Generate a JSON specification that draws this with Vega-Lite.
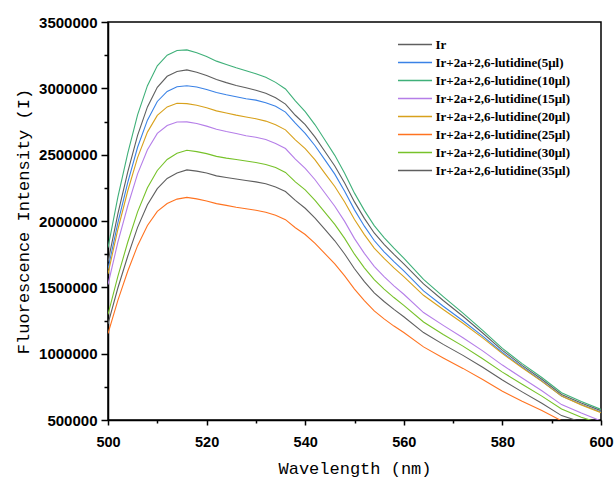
{
  "$schema": "https://vega.github.io/schema/vega-lite/v6.json",
  "autosize": {"type": "none"},
  "padding": {"left": 108, "top": 22, "right": 15, "bottom": 57},
  "width": 493,
  "height": 398,
  "background": "white",
  "view": {"stroke": "black", "strokeWidth": 1.5},
  "data": {"values": [
    {"w":500,"s0":1692000,"s1":1638000,"s2":1800000,"s3":1521000,"s4":1602000,"s5":1152000,"s6":1296000,"s7":1224000},
    {"w":502,"s0":2054000,"s1":1986000,"s2":2180000,"s3":1840000,"s4":1936000,"s5":1402000,"s6":1583000,"s7":1495000},
    {"w":504,"s0":2369000,"s1":2289000,"s2":2510000,"s3":2113000,"s4":2226000,"s5":1621000,"s6":1840000,"s7":1734000},
    {"w":506,"s0":2646000,"s1":2556000,"s2":2800000,"s3":2355000,"s4":2478000,"s5":1814000,"s6":2069000,"s7":1952000},
    {"w":508,"s0":2860000,"s1":2760000,"s2":3020000,"s3":2537000,"s4":2670000,"s5":1966000,"s6":2250000,"s7":2123000},
    {"w":510,"s0":3008000,"s1":2901000,"s2":3170000,"s3":2660000,"s4":2796000,"s5":2073000,"s6":2381000,"s7":2244000},
    {"w":512,"s0":3091000,"s1":2977000,"s2":3250000,"s3":2720000,"s4":2860000,"s5":2132000,"s6":2464000,"s7":2321000},
    {"w":514,"s0":3127000,"s1":3012000,"s2":3285000,"s3":2746000,"s4":2887000,"s5":2165000,"s6":2510000,"s7":2362000},
    {"w":516,"s0":3139000,"s1":3020000,"s2":3290000,"s3":2747000,"s4":2885000,"s5":2178000,"s6":2533000,"s7":2385000},
    {"w":518,"s0":3121000,"s1":3010000,"s2":3268000,"s3":2735000,"s4":2873000,"s5":2167000,"s6":2523000,"s7":2376000},
    {"w":520,"s0":3097000,"s1":2991000,"s2":3240000,"s3":2715000,"s4":2854000,"s5":2151000,"s6":2508000,"s7":2362000},
    {"w":522,"s0":3067000,"s1":2968000,"s2":3205000,"s3":2692000,"s4":2830000,"s5":2131000,"s6":2487000,"s7":2340000},
    {"w":524,"s0":3043000,"s1":2951000,"s2":3180000,"s3":2674000,"s4":2814000,"s5":2118000,"s6":2474000,"s7":2328000},
    {"w":526,"s0":3022000,"s1":2937000,"s2":3155000,"s3":2660000,"s4":2798000,"s5":2104000,"s6":2464000,"s7":2316000},
    {"w":528,"s0":3004000,"s1":2922000,"s2":3132000,"s3":2643000,"s4":2784000,"s5":2092000,"s6":2452000,"s7":2305000},
    {"w":530,"s0":2986000,"s1":2911000,"s2":3110000,"s3":2631000,"s4":2771000,"s5":2081000,"s6":2441000,"s7":2295000},
    {"w":532,"s0":2963000,"s1":2892000,"s2":3083000,"s3":2614000,"s4":2753000,"s5":2066000,"s6":2426000,"s7":2281000},
    {"w":534,"s0":2929000,"s1":2865000,"s2":3045000,"s3":2585000,"s4":2725000,"s5":2043000,"s6":2403000,"s7":2256000},
    {"w":536,"s0":2881000,"s1":2821000,"s2":2995000,"s3":2546000,"s4":2687000,"s5":2010000,"s6":2366000,"s7":2222000},
    {"w":538,"s0":2797000,"s1":2737000,"s2":2905000,"s3":2466000,"s4":2612000,"s5":1949000,"s6":2295000,"s7":2156000},
    {"w":540,"s0":2726000,"s1":2661000,"s2":2825000,"s3":2396000,"s4":2545000,"s5":1898000,"s6":2235000,"s7":2096000},
    {"w":542,"s0":2632000,"s1":2567000,"s2":2725000,"s3":2311000,"s4":2461000,"s5":1831000,"s6":2155000,"s7":2022000},
    {"w":544,"s0":2524000,"s1":2461000,"s2":2610000,"s3":2211000,"s4":2359000,"s5":1754000,"s6":2065000,"s7":1937000},
    {"w":546,"s0":2415000,"s1":2353000,"s2":2495000,"s3":2111000,"s4":2260000,"s5":1677000,"s6":1974000,"s7":1851000},
    {"w":548,"s0":2287000,"s1":2225000,"s2":2360000,"s3":1997000,"s4":2143000,"s5":1586000,"s6":1869000,"s7":1751000},
    {"w":550,"s0":2144000,"s1":2084000,"s2":2210000,"s3":1867000,"s4":2011000,"s5":1487000,"s6":1750000,"s7":1640000},
    {"w":552,"s0":2020000,"s1":1961000,"s2":2080000,"s3":1756000,"s4":1897000,"s5":1400000,"s6":1647000,"s7":1543000},
    {"w":554,"s0":1910000,"s1":1853000,"s2":1965000,"s3":1658000,"s4":1796000,"s5":1322000,"s6":1558000,"s7":1458000},
    {"w":556,"s0":1824000,"s1":1768000,"s2":1875000,"s3":1581000,"s4":1718000,"s5":1262000,"s6":1487000,"s7":1393000},
    {"w":558,"s0":1748000,"s1":1694000,"s2":1795000,"s3":1511000,"s4":1646000,"s5":1208000,"s6":1423000,"s7":1334000},
    {"w":560,"s0":1677000,"s1":1624000,"s2":1720000,"s3":1448000,"s4":1581000,"s5":1159000,"s6":1364000,"s7":1278000},
    {"w":564,"s0":1526000,"s1":1473000,"s2":1560000,"s3":1310000,"s4":1440000,"s5":1051000,"s6":1239000,"s7":1159000},
    {"w":568,"s0":1401000,"s1":1357000,"s2":1430000,"s3":1213000,"s4":1333000,"s5":968000,"s6":1145000,"s7":1070000},
    {"w":572,"s0":1282000,"s1":1248000,"s2":1305000,"s3":1120000,"s4":1229000,"s5":889000,"s6":1057000,"s7":987000},
    {"w":576,"s0":1156000,"s1":1132000,"s2":1175000,"s3":1021000,"s4":1119000,"s5":805000,"s6":962000,"s7":897000},
    {"w":580,"s0":1025000,"s1":1009000,"s2":1040000,"s3":914000,"s4":1000000,"s5":717000,"s6":861000,"s7":801000},
    {"w":584,"s0":912000,"s1":899000,"s2":925000,"s3":816000,"s4":894000,"s5":642000,"s6":770000,"s7":712000},
    {"w":588,"s0":807000,"s1":794000,"s2":820000,"s3":720000,"s4":791000,"s5":572000,"s6":680000,"s7":626000},
    {"w":592,"s0":692000,"s1":680000,"s2":705000,"s3":616000,"s4":680000,"s5":494000,"s6":583000,"s7":533000},
    {"w":596,"s0":628000,"s1":617000,"s2":640000,"s3":552000,"s4":614000,"s5":448000,"s6":520000,"s7":485000},
    {"w":600,"s0":570000,"s1":560000,"s2":580000,"s3":493000,"s4":555000,"s5":406000,"s6":475000,"s7":441000}
  ]},
  "transform": [{"fold": ["s0","s1","s2","s3","s4","s5","s6","s7"], "as": ["series","intensity"]}],
  "mark": {"type": "line", "clip": true, "strokeWidth": 1.1},
  "encoding": {
    "x": {
      "field": "w", "type": "quantitative",
      "scale": {"domain": [500, 600], "nice": false, "zero": false},
      "axis": {
        "title": "Wavelength (nm)",
        "values": [500,510,520,530,540,550,560,570,580,590,600],
        "labelExpr": "datum.value % 20 === 0 ? datum.label : ''",
        "labelFlush": false,
        "tickSize": {"condition": {"test": "datum.value % 20 !== 0", "value": 3}, "value": 5},
        "labelPadding": 10,
        "titleY": 53,
        "titleBaseline": "alphabetic"
      }
    },
    "y": {
      "field": "intensity", "type": "quantitative",
      "scale": {"domain": [500000, 3500000], "nice": false, "zero": false},
      "axis": {
        "title": "Fluorescence Intensity (I)",
        "values": [500000,750000,1000000,1250000,1500000,1750000,2000000,2250000,2500000,2750000,3000000,3250000,3500000],
        "format": "d",
        "labelExpr": "datum.value % 500000 === 0 ? datum.label : ''",
        "labelFlush": false,
        "tickSize": {"condition": {"test": "datum.value % 500000 !== 0", "value": 4}, "value": 7},
        "labelPadding": 4,
        "titleX": -85,
        "titleBaseline": "middle"
      }
    },
    "color": {
      "field": "series", "type": "nominal",
      "scale": {
        "domain": ["s0","s1","s2","s3","s4","s5","s6","s7"],
        "range": ["#5f5f5f","#3a82e6","#3fb079","#b57ee8","#d8a11c","#ff7320","#77c22a","#5f5f5f"]
      },
      "legend": {
        "title": null,
        "orient": "none",
        "legendX": 296.5,
        "legendY": 12,
        "padding": 0,
        "symbolType": "M-1.79,0L1.79,0",
        "symbolSize": 361,
        "symbolStrokeWidth": 1.5,
        "rowPadding": 0,
        "labelOffset": 10,
        "labelFont": "Liberation Serif",
        "labelFontWeight": "bold",
        "labelFontSize": 13,
        "labelColor": "black",
        "labelExpr": "{'s0':'Ir','s1':'Ir+2a+2,6-lutidine(5μl)','s2':'Ir+2a+2,6-lutidine(10μl)','s3':'Ir+2a+2,6-lutidine(15μl)','s4':'Ir+2a+2,6-lutidine(20μl)','s5':'Ir+2a+2,6-lutidine(25μl)','s6':'Ir+2a+2,6-lutidine(30μl)','s7':'Ir+2a+2,6-lutidine(35μl)'}[datum.label]"
      }
    }
  },
  "config": {
    "axis": {
      "domainColor": "black",
      "domainWidth": 1.5,
      "tickColor": "black",
      "tickWidth": 1.5,
      "grid": false,
      "labelFont": "Liberation Sans",
      "labelFontWeight": "bold",
      "labelColor": "black",
      "titleFont": "Liberation Mono",
      "titleFontWeight": "normal",
      "titleFontSize": 17,
      "titleColor": "black"
    },
    "axisX": {"labelFontSize": 14.5},
    "axisY": {"labelFontSize": 15}
  }
}
